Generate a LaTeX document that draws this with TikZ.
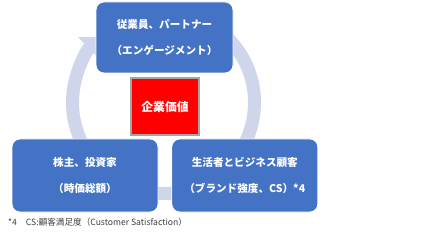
\documentclass[tikz,border=0pt]{standalone}
\usepackage{fontspec}
\setmainfont{Noto Sans CJK JP}
\usetikzlibrary{arrows.meta, positioning}
\definecolor{OfficeBlue}{RGB}{68, 114, 196}
\definecolor{RingLavender}{RGB}{207, 213, 234}
\definecolor{ValueRed}{RGB}{255, 0, 0}
\definecolor{ValueEdge}{RGB}{165, 165, 165}
\definecolor{NoteGrey}{RGB}{60, 60, 60}

\begin{document}
\begin{tikzpicture}[x=1pt, y=1pt,
    stakebox/.style={rectangle, rounded corners=8pt, fill=OfficeBlue, draw=white, line width=0.8pt,
        minimum width=146pt, minimum height=73pt, text=white, align=center,
        font=\fontsize{10.6}{26}\selectfont\bfseries},
    valuebox/.style={rectangle, fill=ValueRed, draw=ValueEdge, line width=1.5pt,
        minimum width=68pt, minimum height=57pt, text=white,
        font=\fontsize{11.8}{13}\selectfont\bfseries}]

        % Canvas
        \useasboundingbox (0, 0) rectangle (444, 233);

        % Constants
        \def\cx{163.5}  % ring centre x
        \def\cy{130.5}  % ring centre y
        \def\rr{91}     % ring radius

        % Circular arrow (behind the boxes)
        \draw[RingLavender, line width=13pt, -{Triangle[length=16pt, width=30pt]}]
            (\cx, \cy) ++(80:\rr) arc[start angle=80, end angle=-226, radius=\rr];

        % Stakeholder boxes
        \node[stakebox, minimum width=137pt, minimum height=71pt] (staff) at (164.5, 195.5)
            {従業員、パートナー\\（エンゲージメント）};
        \node[stakebox] (holders) at (85, 57.5)
            {株主、投資家\\（時価総額）};
        \node[stakebox, right=13pt of holders] (clients)
            {生活者とビジネス顧客\\（ブランド強度、CS）*4};

        % Corporate value in the middle
        \node[valuebox] (value) at (165, 126.5) {企業価値};

        % Footnote
        \node[anchor=west, inner sep=0pt, text=NoteGrey, font=\fontsize{8.6}{10}\selectfont] (note) at (8, 11)
            {*4\hspace{9pt}CS:顧客満足度（Customer Satisfaction）};

    \end{tikzpicture}
\end{document}
